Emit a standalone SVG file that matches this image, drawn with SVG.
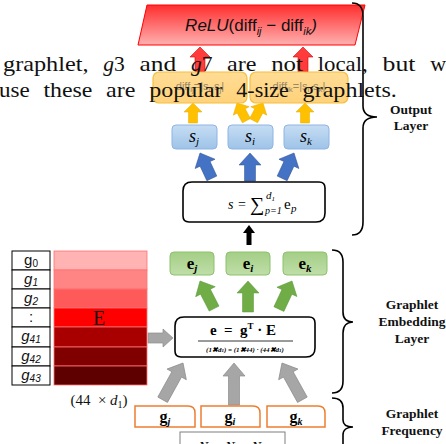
<svg xmlns="http://www.w3.org/2000/svg" width="446" height="444" viewBox="0 0 446 444">
<style>
.serif{font-family:"Liberation Serif","Times New Roman",serif}
.sans{font-family:"Liberation Sans",Arial,sans-serif}
.lbl{font-family:"Liberation Serif","Times New Roman",serif;font-weight:bold;font-size:13.5px;text-anchor:middle;fill:#111}
.brace{fill:none;stroke:#000;stroke-width:1.6}
.aR{fill:#FF3B3B;stroke:#E00000;stroke-width:0.6}
.aY{fill:#FFC000;stroke:#E5AC00;stroke-width:0.5}
.aB{fill:#4472C4;stroke:#2F528F;stroke-width:0.5}
.aG{fill:#70AD47;stroke:#5A9438;stroke-width:0.5}
.aGr{fill:#A6A6A6;stroke:#8C8C8C;stroke-width:0.7}
.aK{fill:#000}
.sbox{fill:url(#blueG);stroke:#8FB4E3;stroke-width:1}
.ebox{fill:url(#greenG);stroke:#8CC26B;stroke-width:1}
.obox{fill:url(#orangeG);stroke:#F6BE3C;stroke-width:1.2}
.gbox{fill:#fff;stroke:#ED7D31;stroke-width:1.5}
.fbox{fill:#fff;stroke:#000;stroke-width:1.6}
.cell{fill:#fff;stroke:#000;stroke-width:1}
.erow{stroke:#FF7070;stroke-width:0.8}
.para{font-family:"Liberation Serif","Times New Roman",serif;font-size:22px;fill:#111}
.diff{font-family:"Liberation Sans",Arial,sans-serif;font-size:11px;fill:#9A8866;text-anchor:middle}
</style>
<defs>
<linearGradient id="redG" x1="0" y1="0" x2="0" y2="1"><stop offset="0" stop-color="#FF2E2E"/><stop offset="1" stop-color="#FFB0B0"/></linearGradient>
<linearGradient id="blueG" x1="0" y1="0" x2="0" y2="1"><stop offset="0" stop-color="#C6DDF3"/><stop offset="1" stop-color="#9EC3E8"/></linearGradient>
<linearGradient id="greenG" x1="0" y1="0" x2="0" y2="1"><stop offset="0" stop-color="#A4CE86"/><stop offset="1" stop-color="#BFDEA8"/></linearGradient>
<linearGradient id="orangeG" x1="0" y1="0" x2="0" y2="1"><stop offset="0" stop-color="#FFDC95"/><stop offset="1" stop-color="#FFD27A"/></linearGradient>
<path id="arR" d="M0,0 L10,10 L5,10 L5,25 L-5,25 L-5,10 L-10,10Z"/>
<path id="arY" d="M0,0 L9,9 L4.5,9 L4.5,20 L-4.5,20 L-4.5,9 L-9,9Z"/>
<path id="arB" d="M0,0 L11,12 L5.5,12 L5.5,28 L-5.5,28 L-5.5,12 L-11,12Z"/>
<path id="arG" d="M0,0 L11,12 L5.5,12 L5.5,31 L-5.5,31 L-5.5,12 L-11,12Z"/>
<path id="arGr" d="M0,0 L11,13 L5.5,13 L5.5,42 L-5.5,42 L-5.5,13 L-11,13Z"/>
<path id="arH" d="M0,0 L9,10 L5,10 L5,25 L-5,25 L-5,10 L-9,10Z"/>
<path id="arK" d="M0,0 L6,8 L2.5,8 L2.5,20 L-2.5,20 L-2.5,8 L-6,8Z"/>
</defs>
<rect width="446" height="444" fill="#fff"/>

<g id="connectors">
<use href="#arR" class="aR" transform="translate(200,47)"/>
<use href="#arR" class="aR" transform="translate(303,47)"/>
<use href="#arY" class="aY" transform="translate(193,103)"/>
<use href="#arY" class="aY" transform="translate(237,103) rotate(-28)"/>
<use href="#arY" class="aY" transform="translate(263,103) rotate(28)"/>
<use href="#arY" class="aY" transform="translate(305,103)"/>
<use href="#arB" class="aB" transform="translate(200,153) rotate(-25)"/>
<use href="#arB" class="aB" transform="translate(250,153)"/>
<use href="#arB" class="aB" transform="translate(294,153) rotate(25)"/>
<use href="#arK" class="aK" transform="translate(249,225)"/>
<use href="#arG" class="aG" transform="translate(200,281) rotate(-27)"/>
<use href="#arG" class="aG" transform="translate(248,281)"/>
<use href="#arG" class="aG" transform="translate(292,281) rotate(25)"/>
<use href="#arH" class="aGr" transform="translate(173,338) rotate(90)"/>
<use href="#arGr" class="aGr" transform="translate(183,363) rotate(29)"/>
<use href="#arGr" class="aGr" transform="translate(234,363)"/>
<use href="#arGr" class="aGr" transform="translate(282,363) rotate(-29)"/>
</g>

<g id="relu">
<path d="M147,5 H365 L355,45 H138 Z" fill="url(#redG)" stroke="#FF0000" stroke-width="1"/>
<text x="251" y="31" class="sans" font-size="17" text-anchor="middle" fill="#111"><tspan font-style="italic">ReLU</tspan>(diff<tspan font-size="11" dy="4" font-style="italic">ij</tspan><tspan dy="-4"> − diff</tspan><tspan font-size="11" dy="4" font-style="italic">ik</tspan><tspan dy="-4" font-style="italic">)</tspan></text>
</g>

<g id="diff_ij">
<rect x="153" y="72" width="94" height="31" rx="6" class="obox"/>
<text x="200" y="90" class="diff">diff<tspan font-size="8" dy="2">ij</tspan><tspan dy="-2">=|s</tspan><tspan font-size="8" dy="2">i</tspan><tspan dy="-2">-s</tspan><tspan font-size="8" dy="2">j</tspan><tspan dy="-2">|</tspan></text>
</g>
<g id="diff_ik">
<rect x="250" y="72" width="98" height="31" rx="6" class="obox"/>
<text x="299" y="90" class="diff">diff<tspan font-size="8" dy="2">ik</tspan><tspan dy="-2">=|s</tspan><tspan font-size="8" dy="2">i</tspan><tspan dy="-2">-s</tspan><tspan font-size="8" dy="2">k</tspan><tspan dy="-2">|</tspan></text>
</g>

<g id="paragraph" class="para">
<text x="3" y="71" textLength="85.6" lengthAdjust="spacingAndGlyphs">graphlet,</text>
<text x="103.3" y="71" textLength="21.5" lengthAdjust="spacingAndGlyphs"><tspan font-style="italic">g</tspan>3</text>
<text x="139.5" y="71" textLength="36.7" lengthAdjust="spacingAndGlyphs">and</text>
<text x="190.9" y="71" textLength="21.5" lengthAdjust="spacingAndGlyphs"><tspan font-style="italic">g</tspan>7</text>
<text x="227.1" y="71" textLength="29.4" lengthAdjust="spacingAndGlyphs">are</text>
<text x="271.2" y="71" textLength="31.8" lengthAdjust="spacingAndGlyphs">not</text>
<text x="317.7" y="71" textLength="50.1" lengthAdjust="spacingAndGlyphs">local,</text>
<text x="382.5" y="71" textLength="33" lengthAdjust="spacingAndGlyphs">but</text>
<text x="430.2" y="71" textLength="15.9" lengthAdjust="spacingAndGlyphs">w</text>
<text x="-1" y="97" textLength="30.7" lengthAdjust="spacingAndGlyphs">use</text>
<text x="43.4" y="97" textLength="49" lengthAdjust="spacingAndGlyphs">these</text>
<text x="106.1" y="97" textLength="29.4" lengthAdjust="spacingAndGlyphs">are</text>
<text x="149.2" y="97" textLength="73.4" lengthAdjust="spacingAndGlyphs">popular</text>
<text x="236.3" y="97" textLength="52.6" lengthAdjust="spacingAndGlyphs">4-size</text>
<text x="302.6" y="97" textLength="94.3" lengthAdjust="spacingAndGlyphs">graphlets.</text>
</g>

<g id="s_j"><rect x="172" y="125" width="45" height="24" rx="4" class="sbox"/>
<text x="194" y="142" class="serif" font-size="18" font-style="italic" text-anchor="middle">s<tspan font-size="11" dy="3">j</tspan></text></g>
<g id="s_i"><rect x="228" y="125" width="45" height="24" rx="4" class="sbox"/>
<text x="250" y="142" class="serif" font-size="18" font-style="italic" text-anchor="middle">s<tspan font-size="11" dy="3">i</tspan></text></g>
<g id="s_k"><rect x="284" y="125" width="45" height="24" rx="4" class="sbox"/>
<text x="306" y="142" class="serif" font-size="18" font-style="italic" text-anchor="middle">s<tspan font-size="11" dy="3">k</tspan></text></g>

<g id="sum">
<path d="M192,182 H319 Q325,182 325,188 V213 Q325,222 316,222 H189 Q183,222 183,216 V191 Q183,182 192,182Z" class="fbox"/>
<text x="228" y="209" class="serif" font-size="14" font-style="italic">s</text>
<text x="238" y="209" class="serif" font-size="14">=</text>
<text x="250" y="211" class="serif" font-size="20">∑</text>
<text x="266" y="199" class="serif" font-size="11" font-style="italic">d<tspan font-size="7" dy="2">1</tspan></text>
<text x="265" y="214" class="serif" font-size="10" font-style="italic">p=1</text>
<text x="284" y="209" class="serif" font-size="15">e</text>
<text x="291" y="212" class="serif" font-size="11" font-style="italic">p</text>
</g>

<g id="e_j"><rect x="170" y="252" width="44" height="23" rx="4" class="ebox"/>
<text x="192" y="269" class="serif" font-size="17" font-weight="bold" text-anchor="middle">e<tspan font-size="11" dy="3" font-style="italic">j</tspan></text></g>
<g id="e_i"><rect x="226" y="252" width="44" height="23" rx="4" class="ebox"/>
<text x="248" y="269" class="serif" font-size="17" font-weight="bold" text-anchor="middle">e<tspan font-size="11" dy="3" font-style="italic">i</tspan></text></g>
<g id="e_k"><rect x="283" y="252" width="44" height="23" rx="4" class="ebox"/>
<text x="305" y="269" class="serif" font-size="17" font-weight="bold" text-anchor="middle">e<tspan font-size="11" dy="3" font-style="italic">k</tspan></text></g>

<g id="embed">
<path d="M184,317 H309 Q315,317 315,323 V348 Q315,357 306,357 H181 Q175,357 175,351 V326 Q175,317 184,317Z" class="fbox"/>
<text x="243" y="335" class="serif" font-size="15" font-weight="bold" text-anchor="middle" xml:space="preserve">e  =  g<tspan font-size="9" dy="-6">T</tspan><tspan dy="6"> · E</tspan></text>
<line x1="198" y1="341" x2="293" y2="341" stroke="#000" stroke-width="0.8"/>
<text x="245" y="352" class="serif" font-size="7" font-weight="bold" font-style="italic" text-anchor="middle">(1✖d<tspan font-size="5">1</tspan>) = (1✖44) · (44✖d<tspan font-size="5">1</tspan>)</text>
</g>

<g id="table">
<rect x="12" y="251" width="38" height="19" class="cell"/>
<rect x="12" y="270" width="38" height="19" class="cell"/>
<rect x="12" y="289" width="38" height="19" class="cell"/>
<rect x="12" y="308" width="38" height="19" class="cell"/>
<rect x="12" y="327" width="38" height="20" class="cell"/>
<rect x="12" y="347" width="38" height="19" class="cell"/>
<rect x="12" y="366" width="38" height="19" class="cell"/>
<g class="sans" font-size="15" text-anchor="middle" fill="#111">
<text x="31" y="265">g<tspan font-size="10" dy="2">0</tspan></text>
<text x="31" y="284" font-style="italic">g<tspan font-size="10" dy="2">1</tspan></text>
<text x="31" y="303" font-style="italic">g<tspan font-size="10" dy="2">2</tspan></text>
<text x="31" y="322">:</text>
<text x="31" y="341" font-style="italic">g<tspan font-size="10" dy="2">41</tspan></text>
<text x="31" y="361" font-style="italic">g<tspan font-size="10" dy="2">42</tspan></text>
<text x="31" y="380" font-style="italic">g<tspan font-size="10" dy="2">43</tspan></text>
</g>
</g>

<g id="E">
<rect x="54" y="251" width="93" height="19" fill="#FFB3B3" class="erow"/>
<rect x="54" y="270" width="93" height="19" fill="#FF8585" class="erow"/>
<rect x="54" y="289" width="93" height="19" fill="#FF5A5A" class="erow"/>
<rect x="54" y="308" width="93" height="19" fill="#FF0000" class="erow"/>
<rect x="54" y="327" width="93" height="20" fill="#A80000" class="erow"/>
<rect x="54" y="347" width="93" height="19" fill="#800000" class="erow"/>
<rect x="54" y="366" width="93" height="19" fill="#5E0000" class="erow"/>
<text x="99" y="325" class="serif" font-size="20" text-anchor="middle" fill="#111">E</text>
<text x="99" y="405" class="serif" font-size="15" text-anchor="middle" fill="#111" xml:space="preserve">(44  × <tspan font-style="italic">d</tspan><tspan font-size="10" dy="3">1</tspan><tspan dy="-3">)</tspan></text>
</g>

<g id="g_j"><path d="M135,406 H188 Q195,406 195,413 V427 H135Z" class="gbox"/>
<text x="165" y="422" class="serif" font-size="16" font-weight="bold" text-anchor="middle">g<tspan font-size="10" dy="3" font-style="italic">j</tspan></text></g>
<g id="g_i"><path d="M201,406 H253 Q260,406 260,413 V427 H201Z" class="gbox"/>
<text x="230" y="422" class="serif" font-size="16" font-weight="bold" text-anchor="middle">g<tspan font-size="10" dy="3" font-style="italic">i</tspan></text></g>
<g id="g_k"><path d="M267,406 H318 Q325,406 325,413 V427 H267Z" class="gbox"/>
<text x="296" y="422" class="serif" font-size="16" font-weight="bold" text-anchor="middle">g<tspan font-size="10" dy="3" font-style="italic">k</tspan></text></g>

<g id="order">
<rect x="180" y="432" width="105" height="20" fill="#fff" stroke="#7F7F7F" stroke-width="1"/>
<text x="232" y="452" class="serif" font-size="14" font-style="italic" text-anchor="middle">N<tspan font-size="9">j</tspan> ≤ N<tspan font-size="9">i</tspan> ≤ N<tspan font-size="9">k</tspan></text>
</g>

<g id="braces">
<path class="brace" d="M352,3 C360,3 363,8 363,16 V106 C363,113 368,117 377,117 C368,117 363,121 363,128 V222 C363,230 360,235 352,235"/>
<path class="brace" d="M332,250 C340,250 343,255 343,262 V312 C343,319 347,322 353,322 C347,322 343,326 343,333 V381 C343,389 340,393 332,393"/>
<path class="brace" d="M332,398 C340,398 343,402 343,408 V420 C343,425 347,427 353,427 C347,427 343,430 343,435 V460"/>
</g>
<g id="labels">
<text x="411" y="114" class="lbl">Output</text>
<text x="411" y="130" class="lbl">Layer</text>
<text x="412" y="309" class="lbl">Graphlet</text>
<text x="412" y="326" class="lbl">Embedding</text>
<text x="412" y="343" class="lbl">Layer</text>
<text x="412" y="418" class="lbl">Graphlet</text>
<text x="412" y="435" class="lbl">Frequency</text>
<text x="412" y="452" class="lbl">Layer</text>
</g>
</svg>
